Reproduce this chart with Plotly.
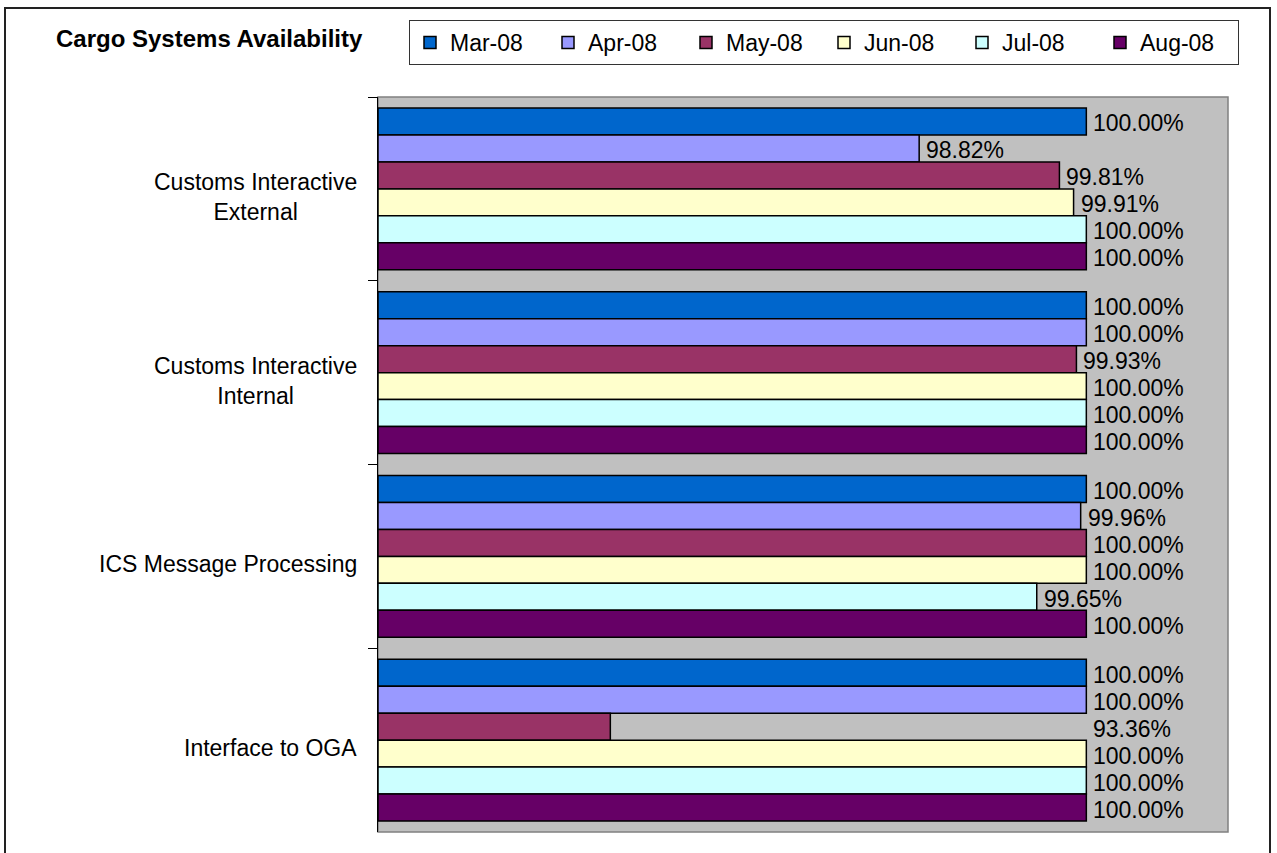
import plotly.graph_objects as go

categories = ["Customs Interactive External", "Customs Interactive Internal",
              "ICS Message Processing", "Interface to OGA"]
category_labels = ["Customs Interactive<br>External", "Customs Interactive<br>Internal",
                   "ICS Message Processing", "Interface to OGA"]
months = ["Mar-08", "Apr-08", "May-08", "Jun-08", "Jul-08", "Aug-08"]

mar_08 = [100.00, 100.00, 100.00, 100.00]
apr_08 = [98.82, 100.00, 99.96, 100.00]
may_08 = [99.81, 99.93, 100.00, 93.36]
jun_08 = [99.91, 100.00, 100.00, 100.00]
jul_08 = [100.00, 100.00, 99.65, 100.00]
aug_08 = [100.00, 100.00, 100.00, 100.00]

series = [mar_08, apr_08, may_08, jun_08, jul_08, aug_08]
colors = ["#0066CC", "#9999FF", "#993366", "#FFFFCC", "#CCFFFF", "#660066"]

XMIN, XMAX = 95, 101
FONT = "Liberation Sans, Arial, sans-serif"

fig = go.Figure()
for name, vals, col in zip(months, series, colors):
    fig.add_trace(go.Bar(
        name=name, y=categories, x=[abs(v - XMIN) for v in vals], base=XMIN,
        orientation="h", marker=dict(color=col, line=dict(color="black", width=1.5)),
        customdata=vals, hovertemplate="%{y}<br>%{customdata:.2f}%<extra>" + name + "</extra>",
    ))

# data labels
n = len(months)
vmax = max(max(s) for s in series)
for i, (name, vals) in enumerate(zip(months, series)):
    for j, v in enumerate(vals):
        inside = v >= XMIN
        fig.add_annotation(
            x=v if inside else vmax, y=categories[j],
            xref="x", yref="y", text=f"{v:.2f}%", showarrow=False,
            xanchor="left", yanchor="middle", xshift=5,
            yshift=(-(i - (n - 1) / 2) * 26.96) - 2,
            font=dict(family=FONT, size=23, color="black"),
        )

# category labels
for cat, lab in zip(categories, category_labels):
    fig.add_annotation(
        x=0, y=cat, xref="paper", yref="y", text=lab, showarrow=False,
        xanchor="right", yanchor="middle", xshift=-19, yshift=-8, align="center",
        font=dict(family=FONT, size=23, color="black"),
    )

# plot area border (grey) and outer chart border
fig.add_shape(type="rect", xref="paper", yref="paper", x0=0, x1=1, y0=0, y1=1,
              line=dict(color="#808080", width=1.5), layer="below")
fig.add_shape(type="rect", xref="paper", yref="paper",
              x0=-373 / 850, x1=892 / 850, y0=-40 / 735, y1=824 / 735,
              line=dict(color="#222222", width=2), layer="above")

fig.update_layout(
    width=1277, height=853,
    margin=dict(l=378, r=49, t=97, b=21),
    paper_bgcolor="white", plot_bgcolor="#C0C0C0",
    barmode="group", bargap=0.12, bargroupgap=0,
    font=dict(family=FONT, size=23, color="black"),
    title=dict(text="<b>Cargo Systems Availability</b>", x=56 / 1277, xanchor="left",
               y=1 - 39 / 853, yanchor="middle", xref="container", yref="container",
               font=dict(family=FONT, size=24, color="black")),
    showlegend=True,
    legend=dict(orientation="h", x=31 / 850, y=812 / 735, xanchor="left", yanchor="top",
                bgcolor="white", bordercolor="#333333", borderwidth=1,
                entrywidth=93, entrywidthmode="pixels", tracegroupgap=0,
                font=dict(family=FONT, size=23, color="black"), traceorder="normal"),
    xaxis=dict(range=[XMIN, XMAX], showticklabels=False, showgrid=False, zeroline=False,
               ticks="", showline=False, fixedrange=True),
    yaxis=dict(autorange="reversed", showticklabels=False, showgrid=False, zeroline=False,
               showline=True, linecolor="black", linewidth=1, ticks="outside",
               tickson="boundaries", ticklen=9, tickcolor="black", tickwidth=1,
               fixedrange=True),
)

fig.write_html("out.html", config={"displayModeBar": False},
               post_script="document.body.style.margin='0';document.body.style.overflow='hidden';")
